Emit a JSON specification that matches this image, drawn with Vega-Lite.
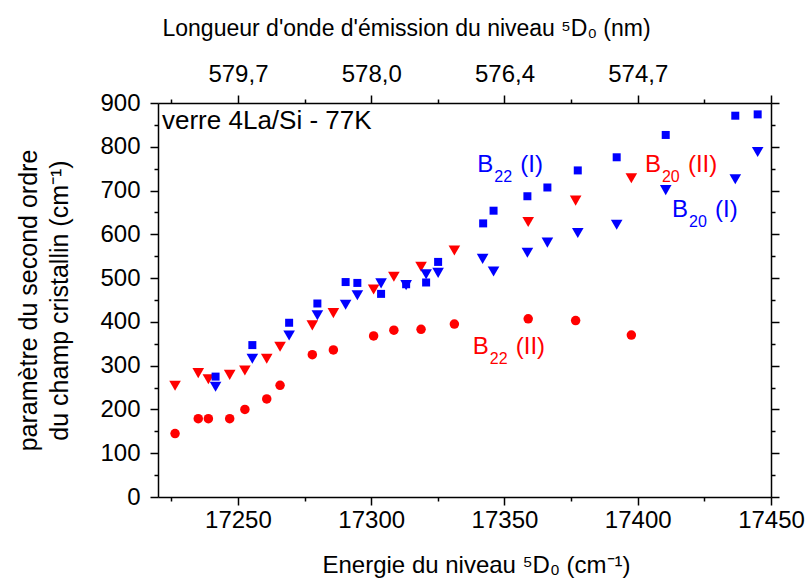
{
  "$schema": "https://vega.github.io/schema/vega-lite/v6.json",
  "width": 613,
  "height": 394,
  "autosize": {"type": "none"},
  "padding": {"left": 158, "top": 103, "right": 38, "bottom": 91},
  "background": "white",
  "config": {
    "font": "Liberation Sans",
    "view": {"stroke": null},
    "axis": {
      "grid": false,
      "domainColor": "black",
      "domainWidth": 1.5,
      "tickColor": "black",
      "tickWidth": 1.5,
      "labelColor": "black",
      "titleColor": "black",
      "labelFont": "Liberation Sans",
      "titleFont": "Liberation Sans",
      "labelFontSize": 24,
      "titleFontSize": 24,
      "titleFontWeight": "normal",
      "labelOverlap": false,
      "labelFlush": false
    }
  },
  "datasets": {
    "pts": [
      {"E": 17226.4, "B": 145, "s": "B22 (II)"},
      {"E": 17235.1, "B": 179, "s": "B22 (II)"},
      {"E": 17238.9, "B": 179, "s": "B22 (II)"},
      {"E": 17246.9, "B": 179, "s": "B22 (II)"},
      {"E": 17252.6, "B": 200, "s": "B22 (II)"},
      {"E": 17260.8, "B": 224, "s": "B22 (II)"},
      {"E": 17265.8, "B": 255, "s": "B22 (II)"},
      {"E": 17277.9, "B": 325, "s": "B22 (II)"},
      {"E": 17285.8, "B": 336, "s": "B22 (II)"},
      {"E": 17300.9, "B": 368, "s": "B22 (II)"},
      {"E": 17308.5, "B": 381, "s": "B22 (II)"},
      {"E": 17318.7, "B": 383, "s": "B22 (II)"},
      {"E": 17331.2, "B": 395, "s": "B22 (II)"},
      {"E": 17358.9, "B": 407, "s": "B22 (II)"},
      {"E": 17376.7, "B": 403, "s": "B22 (II)"},
      {"E": 17397.6, "B": 370, "s": "B22 (II)"},
      {"E": 17226.4, "B": 254, "s": "B20 (II)"},
      {"E": 17235.1, "B": 283, "s": "B20 (II)"},
      {"E": 17238.9, "B": 269, "s": "B20 (II)"},
      {"E": 17246.9, "B": 279, "s": "B20 (II)"},
      {"E": 17252.6, "B": 289, "s": "B20 (II)"},
      {"E": 17260.8, "B": 316, "s": "B20 (II)"},
      {"E": 17265.8, "B": 343, "s": "B20 (II)"},
      {"E": 17277.9, "B": 392, "s": "B20 (II)"},
      {"E": 17285.8, "B": 420, "s": "B20 (II)"},
      {"E": 17300.9, "B": 474, "s": "B20 (II)"},
      {"E": 17308.5, "B": 503, "s": "B20 (II)"},
      {"E": 17318.7, "B": 526, "s": "B20 (II)"},
      {"E": 17331.2, "B": 563, "s": "B20 (II)"},
      {"E": 17358.9, "B": 628, "s": "B20 (II)"},
      {"E": 17376.7, "B": 677, "s": "B20 (II)"},
      {"E": 17397.6, "B": 728, "s": "B20 (II)"},
      {"E": 17241.6, "B": 275, "s": "B22 (I)"},
      {"E": 17255.4, "B": 347, "s": "B22 (I)"},
      {"E": 17269.2, "B": 398, "s": "B22 (I)"},
      {"E": 17279.8, "B": 442, "s": "B22 (I)"},
      {"E": 17290.4, "B": 491, "s": "B22 (I)"},
      {"E": 17294.8, "B": 489, "s": "B22 (I)"},
      {"E": 17303.7, "B": 464, "s": "B22 (I)"},
      {"E": 17313.1, "B": 486, "s": "B22 (I)"},
      {"E": 17320.6, "B": 490, "s": "B22 (I)"},
      {"E": 17325.1, "B": 537, "s": "B22 (I)"},
      {"E": 17342.0, "B": 625, "s": "B22 (I)"},
      {"E": 17345.9, "B": 654, "s": "B22 (I)"},
      {"E": 17358.6, "B": 687, "s": "B22 (I)"},
      {"E": 17366.1, "B": 707, "s": "B22 (I)"},
      {"E": 17377.5, "B": 746, "s": "B22 (I)"},
      {"E": 17392.1, "B": 776, "s": "B22 (I)"},
      {"E": 17410.5, "B": 827, "s": "B22 (I)"},
      {"E": 17436.6, "B": 871, "s": "B22 (I)"},
      {"E": 17445.0, "B": 874, "s": "B22 (I)"},
      {"E": 17241.6, "B": 252, "s": "B20 (I)"},
      {"E": 17255.4, "B": 316, "s": "B20 (I)"},
      {"E": 17269.2, "B": 369, "s": "B20 (I)"},
      {"E": 17279.8, "B": 415, "s": "B20 (I)"},
      {"E": 17290.4, "B": 439, "s": "B20 (I)"},
      {"E": 17294.8, "B": 461, "s": "B20 (I)"},
      {"E": 17303.7, "B": 488, "s": "B20 (I)"},
      {"E": 17313.1, "B": 484, "s": "B20 (I)"},
      {"E": 17320.6, "B": 509, "s": "B20 (I)"},
      {"E": 17325.1, "B": 512, "s": "B20 (I)"},
      {"E": 17341.8, "B": 544, "s": "B20 (I)"},
      {"E": 17345.9, "B": 515, "s": "B20 (I)"},
      {"E": 17358.6, "B": 558, "s": "B20 (I)"},
      {"E": 17366.1, "B": 581, "s": "B20 (I)"},
      {"E": 17377.5, "B": 603, "s": "B20 (I)"},
      {"E": 17392.1, "B": 622, "s": "B20 (I)"},
      {"E": 17410.5, "B": 701, "s": "B20 (I)"},
      {"E": 17436.6, "B": 726, "s": "B20 (I)"},
      {"E": 17445.0, "B": 788, "s": "B20 (I)"}
    ],
    "notes": [
      {"E": 17339.8, "B": 743, "s": "B22 (I)", "sub": "22", "suf": "(I)"},
      {"E": 17402.7, "B": 743, "s": "B20 (II)", "sub": "20", "suf": "(II)"},
      {"E": 17412.9, "B": 639, "s": "B20 (I)", "sub": "20", "suf": "(I)"},
      {"E": 17338.1, "B": 326, "s": "B22 (II)", "sub": "22", "suf": "(II)"}
    ],
    "label": [
      {"E": 17221.5, "B": 840, "t": "verre 4La/Si - 77K"}
    ]
  },
  "layer": [
    {
      "data": {"name": "pts"},
      "transform": [{"filter": "datum.s === 'B22 (II)'"}],
      "mark": {"type": "point", "filled": true, "opacity": 1, "shape": "circle", "size": 90},
      "encoding": {
        "x": {
          "field": "E", "type": "quantitative",
          "scale": {"domain": [17220, 17450], "nice": false, "zero": false},
          "axis": {
            "orient": "bottom",
            "values": [17250, 17300, 17350, 17400, 17450],
            "tickSize": 8,
            "labelPadding": 3,
            "format": "d",
            "title": "Energie du niveau ⁵D₀ (cm⁻¹)",
            "titleX": 318,
            "titlePadding": 21
          }
        },
        "y": {
          "field": "B", "type": "quantitative",
          "scale": {"domain": [0, 900], "nice": false, "zero": true},
          "axis": {
            "orient": "left",
            "values": [0, 100, 200, 300, 400, 500, 600, 700, 800, 900],
            "tickSize": 8,
            "labelPadding": 10,
            "title": ["paramètre du second ordre", "du champ cristallin (cm⁻¹)"],
            "titleFontSize": 25,
            "titleLineHeight": 31,
            "titlePadding": 27
          }
        },
        "color": {
          "field": "s", "type": "nominal", "legend": null,
          "scale": {"domain": ["B22 (I)", "B20 (I)", "B20 (II)", "B22 (II)"], "range": ["#0000ff", "#0000ff", "#ff0000", "#ff0000"]}
        }
      }
    },
    {
      "data": {"name": "pts"},
      "transform": [{"filter": "datum.s === 'B20 (II)' || datum.s === 'B20 (I)'"}],
      "mark": {"type": "point", "filled": true, "opacity": 1, "shape": "triangle-down", "size": 135},
      "encoding": {
        "x": {"field": "E", "type": "quantitative", "axis": null},
        "y": {"field": "B", "type": "quantitative", "axis": null},
        "color": {"field": "s", "type": "nominal", "legend": null}
      }
    },
    {
      "data": {"name": "pts"},
      "transform": [{"filter": "datum.s === 'B22 (I)'"}],
      "mark": {"type": "point", "filled": true, "opacity": 1, "shape": "square", "size": 64},
      "encoding": {
        "x": {"field": "E", "type": "quantitative", "axis": null},
        "y": {"field": "B", "type": "quantitative", "axis": null},
        "color": {"field": "s", "type": "nominal", "legend": null}
      }
    },
    {
      "data": {"name": "pts"},
      "mark": {"type": "point", "opacity": 0},
      "encoding": {
        "x": {
          "field": "E", "type": "quantitative",
          "axis": {
            "orient": "top",
            "values": [17250, 17300, 17350, 17400, 17450],
            "tickSize": 8,
            "labelPadding": 9,
            "labelExpr": "datum.value > 17420 ? '' : replace(format(10000000 / datum.value, '.1f'), '.', ',')",
            "title": "Longueur d'onde d'émission du niveau ⁵D₀ (nm)",
            "titleFontSize": 23,
            "titleAlign": "left",
            "titleX": 4,
            "titlePadding": 22
          }
        },
        "y": {
          "field": "B", "type": "quantitative",
          "axis": {
            "orient": "right",
            "values": [0, 100, 200, 300, 400, 500, 600, 700, 800, 900],
            "tickSize": 8,
            "labels": false,
            "title": null
          }
        }
      }
    },
    {
      "data": {"name": "pts"},
      "mark": {"type": "point", "opacity": 0},
      "encoding": {
        "x": {
          "field": "E", "type": "quantitative",
          "axis": {"orient": "bottom", "values": [17225, 17275, 17325, 17375, 17425], "tickSize": 4, "labels": false, "domain": false, "title": null}
        },
        "y": {
          "field": "B", "type": "quantitative",
          "axis": {"orient": "left", "values": [50, 150, 250, 350, 450, 550, 650, 750, 850], "tickSize": 4, "labels": false, "domain": false, "title": null}
        }
      }
    },
    {
      "data": {"name": "pts"},
      "mark": {"type": "point", "opacity": 0},
      "encoding": {
        "x": {
          "field": "E", "type": "quantitative",
          "axis": {"orient": "top", "values": [17225, 17275, 17325, 17375, 17425], "tickSize": 4, "labels": false, "domain": false, "title": null}
        },
        "y": {
          "field": "B", "type": "quantitative",
          "axis": {"orient": "right", "values": [50, 150, 250, 350, 450, 550, 650, 750, 850], "tickSize": 4, "labels": false, "domain": false, "title": null}
        }
      }
    },
    {
      "data": {"name": "notes"},
      "mark": {"type": "text", "align": "left", "baseline": "alphabetic", "fontSize": 24, "text": "B"},
      "encoding": {
        "x": {"field": "E", "type": "quantitative", "axis": null},
        "y": {"field": "B", "type": "quantitative", "axis": null},
        "color": {"field": "s", "type": "nominal", "legend": null}
      }
    },
    {
      "data": {"name": "notes"},
      "mark": {"type": "text", "align": "left", "baseline": "alphabetic", "fontSize": 16, "dx": 17, "dy": 10},
      "encoding": {
        "x": {"field": "E", "type": "quantitative", "axis": null},
        "y": {"field": "B", "type": "quantitative", "axis": null},
        "text": {"field": "sub"},
        "color": {"field": "s", "type": "nominal", "legend": null}
      }
    },
    {
      "data": {"name": "notes"},
      "mark": {"type": "text", "align": "left", "baseline": "alphabetic", "fontSize": 24, "dx": 43},
      "encoding": {
        "x": {"field": "E", "type": "quantitative", "axis": null},
        "y": {"field": "B", "type": "quantitative", "axis": null},
        "text": {"field": "suf"},
        "color": {"field": "s", "type": "nominal", "legend": null}
      }
    },
    {
      "data": {"name": "label"},
      "mark": {"type": "text", "align": "left", "baseline": "alphabetic", "fontSize": 26, "color": "black"},
      "encoding": {
        "x": {"field": "E", "type": "quantitative", "axis": null},
        "y": {"field": "B", "type": "quantitative", "axis": null},
        "text": {"field": "t"}
      }
    }
  ],
  "resolve": {"axis": {"x": "independent", "y": "independent"}}
}
